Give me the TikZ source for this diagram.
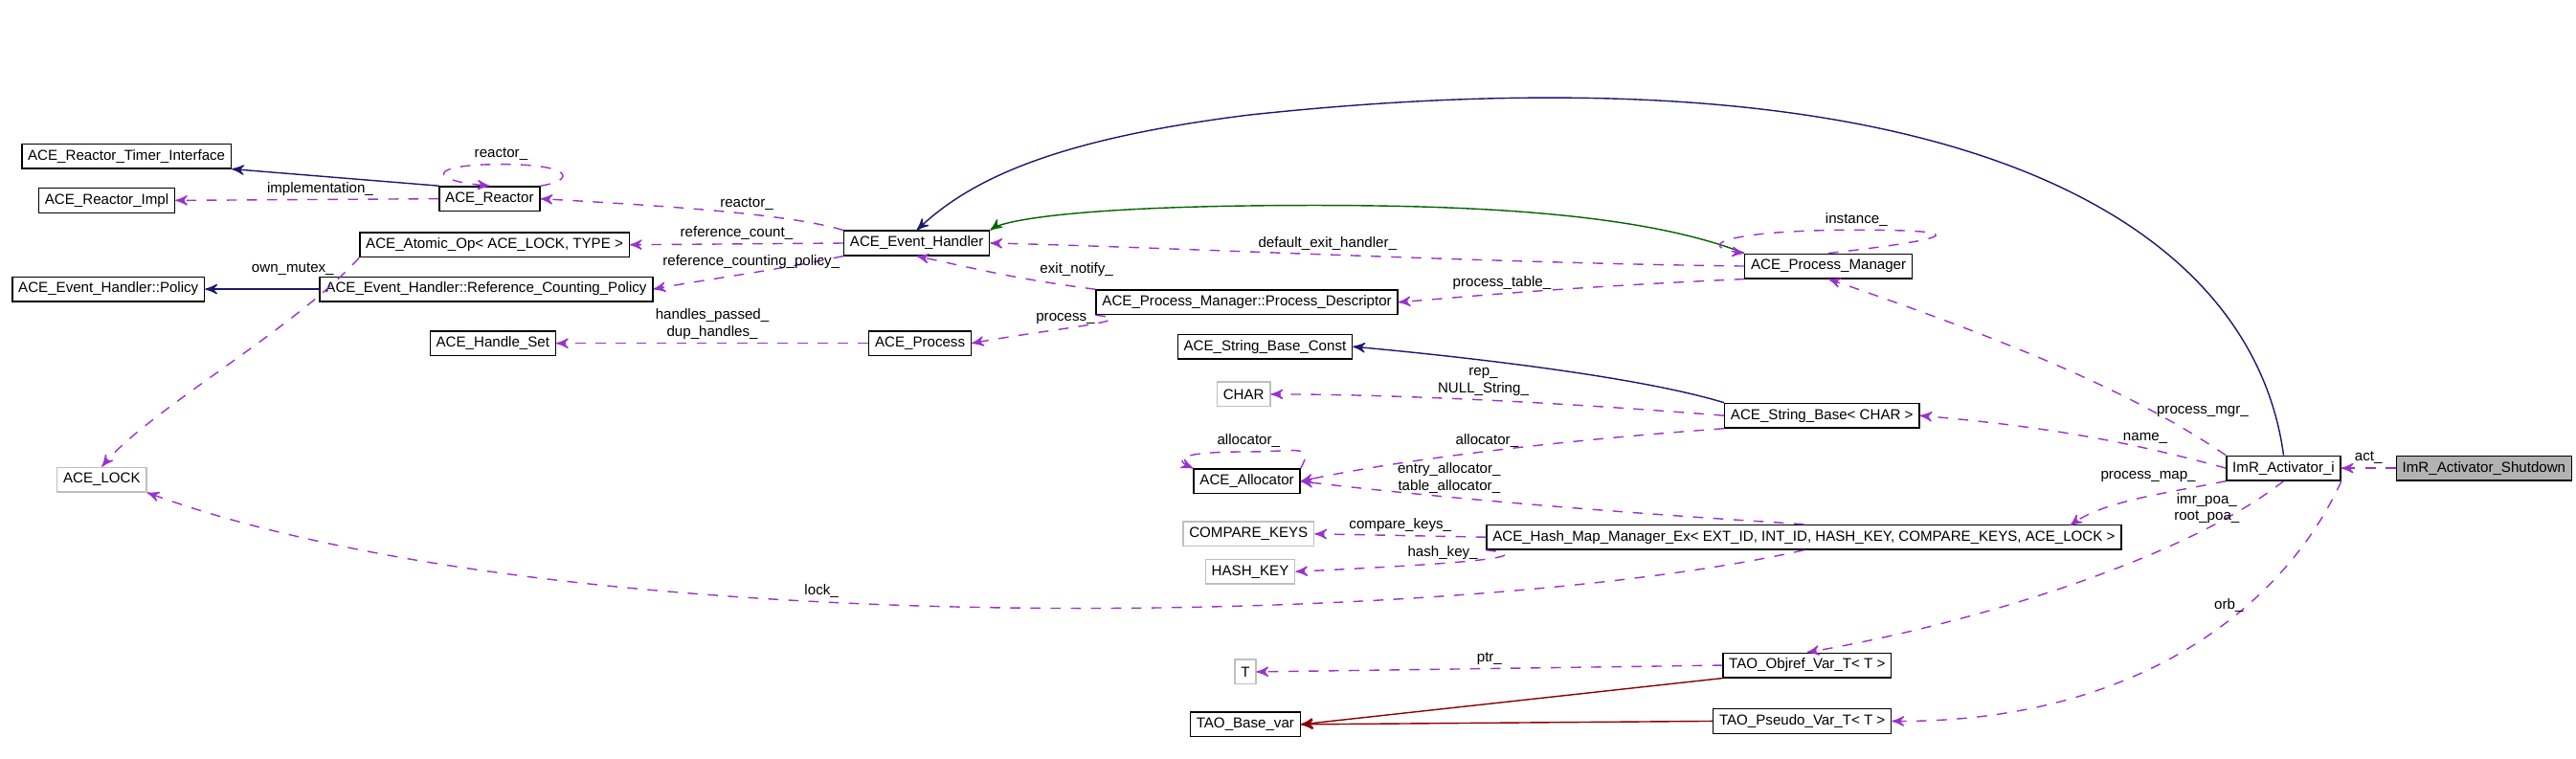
\documentclass[tikz,border=0pt]{standalone}
\usepackage{fontspec}
\setmainfont{Liberation Sans}
\usetikzlibrary{arrows}
\definecolor{orchid}{HTML}{9A32CD}
\definecolor{midnight}{HTML}{191970}
\definecolor{darkgrn}{HTML}{006400}
\definecolor{darkrd}{HTML}{8B0000}
\begin{document}
\begin{tikzpicture}[x=0.01716cm, y=-0.01716cm,
  every node/.style={font=\fontsize{4.3}{5}\selectfont},
  cls/.style={draw, thin, inner xsep=1.8pt, inner ysep=0pt, minimum height=7.3pt},
  ext/.style={cls, draw=black!25},
  cur/.style={cls, fill=black!30},
  uses/.style={->, >=stealth', dashed, thin, color=orchid},
  isa/.style={->, >=stealth', thin, color=midnight},
  isg/.style={->, >=stealth', thin, color=darkgrn},
  isr/.style={->, >=stealth', thin, color=darkrd},
  lbl/.style={text=black, inner sep=1pt, align=center}]
\useasboundingbox (0,0) rectangle (1568,462);
% classes
\node[cls] (timer) at (77,95) {ACE\_Reactor\_Timer\_Interface};
\node[cls] (rimpl) at (65,122) {ACE\_Reactor\_Impl};
\node[cls] (reactor) at (298,121) {ACE\_Reactor};
\node[cls] (atomic) at (301,149) {ACE\_Atomic\_Op< ACE\_LOCK, TYPE >};
\node[cls] (policy) at (66,176) {ACE\_Event\_Handler::Policy};
\node[cls] (rcpolicy) at (296,176) {ACE\_Event\_Handler::Reference\_Counting\_Policy};
\node[cls] (hset) at (300,209) {ACE\_Handle\_Set};
\node[ext] (lock) at (62,292) {ACE\_LOCK};
\node[cls] (evh) at (558,148) {ACE\_Event\_Handler};
\node[cls] (proc) at (560,209) {ACE\_Process};
\node[cls] (pdesc) at (759,184) {ACE\_Process\_Manager::Process\_Descriptor};
\node[cls] (pmgr) at (1113,162) {ACE\_Process\_Manager};
\node[cls] (sbconst) at (770,211) {ACE\_String\_Base\_Const};
\node[ext] (char) at (757,240) {CHAR};
\node[cls] (sbase) at (1109,253) {ACE\_String\_Base< CHAR >};
\node[cls] (alloc) at (759,293) {ACE\_Allocator};
\node[ext] (ckeys) at (760,325) {COMPARE\_KEYS};
\node[ext] (hkey) at (761,348) {HASH\_KEY};
\node[cls] (hmap) at (1098,327) {ACE\_Hash\_Map\_Manager\_Ex< EXT\_ID, INT\_ID, HASH\_KEY, COMPARE\_KEYS, ACE\_LOCK >};
\node[cls] (activ) at (1390,285) {ImR\_Activator\_i};
\node[cur] (shut) at (1512,285) {ImR\_Activator\_Shutdown};
\node[ext] (tt) at (758,409) {T};
\node[cls] (basevar) at (758,441) {TAO\_Base\_var};
\node[cls] (objref) at (1100,405) {TAO\_Objref\_Var\_T< T >};
\node[cls] (pseudo) at (1097,439) {TAO\_Pseudo\_Var\_T< T >};
% inheritance
\draw[isa] (reactor.north west) -- (timer.south east);
\draw[isa] (rcpolicy) -- (policy);
\draw[isa] (sbase.north west) .. controls (1000,230) and (900,218) .. (sbconst.east);
\draw[isa] (activ.north) .. controls (1370,130) and (1180,25) .. (760,70) .. controls (640,85) and (590,110) .. (evh.north);
\draw[isg] (pmgr.north west) .. controls (1000,130) and (900,125) .. (800,125) .. controls (650,125) and (610,135) .. (evh.north east);
\draw[isr] (objref.south west) -- (basevar.east);
\draw[isr] (pseudo.west) -- (basevar.east);
% members
\draw[uses] (reactor.west) -- node[lbl, above, pos=.45] {implementation\_} (rimpl.east);
\draw[uses] (reactor.north east) .. controls (350,110) and (350,100) .. (305,100) node[lbl, above] {reactor\_} .. controls (260,100) and (260,110) .. (reactor.north);
\draw[uses] (evh.north west) .. controls (480,130) and (400,125) .. node[lbl, above, pos=.4] {reactor\_} (reactor.east);
\draw[uses] (evh.west) -- node[lbl, above] {reference\_count\_} (atomic.east);
\draw[uses] (evh.south west) .. controls (470,165) and (430,170) .. node[lbl, above, pos=.45] {reference\_counting\_policy\_} (rcpolicy.east);
\draw[uses] (atomic.south west) .. controls (180,200) and (90,250) .. node[lbl, pos=.1, above left] {own\_mutex\_} (lock.north);
\draw[uses] (proc) -- node[lbl, above] {handles\_passed\_\\dup\_handles\_} (hset);
\draw[uses] (pdesc.north west) .. controls (620,170) and (600,165) .. node[lbl, above right, pos=.3] {exit\_notify\_} (evh.south);
\draw[uses] (pdesc.south west) .. controls (700,195) and (640,200) .. node[lbl, above, pos=.6] {process\_} (proc.east);
\draw[uses] (pmgr.west) .. controls (900,160) and (700,150) .. node[lbl, above, pos=.5] {default\_exit\_handler\_} (evh.east);
\draw[uses] (pmgr.south west) .. controls (950,175) and (900,180) .. node[lbl, above, pos=.6] {process\_table\_} (pdesc.east);
\draw[uses] (pmgr.north) .. controls (1150,150) and (1230,140) .. (1130,140) node[lbl, above] {instance\_} .. controls (1050,140) and (1030,150) .. (pmgr.north west);
\draw[uses] (activ.north west) .. controls (1300,240) and (1230,210) .. node[lbl, right, pos=.25] {process\_mgr\_} (pmgr.south);
\draw[uses] (sbase.west) .. controls (950,245) and (850,240) .. node[lbl, pos=.5, above] {rep\_\\NULL\_String\_} (char.east);
\draw[uses] (sbase.south west) .. controls (950,268) and (850,280) .. node[lbl, above, pos=.5] {allocator\_} (alloc.east);
\draw[uses] (alloc.north east) .. controls (800,270) and (790,275) .. (760,275) node[lbl, above] {allocator\_} .. controls (715,275) and (715,280) .. (alloc.north west);
\draw[uses] (hmap.north) .. controls (950,310) and (850,300) .. node[lbl, pos=.6, above] {entry\_allocator\_\\table\_allocator\_} (alloc.east);
\draw[uses] (hmap.west) -- node[lbl, above] {compare\_keys\_} (ckeys.east);
\draw[uses] (hmap.south west) .. controls (950,340) and (850,345) .. node[lbl, above, pos=.55] {hash\_key\_} (hkey.east);
\draw[uses] (hmap.south) .. controls (900,380) and (350,395) .. node[lbl, above, pos=.6] {lock\_} (lock.south east);
\draw[uses] (activ.west) .. controls (1300,270) and (1250,260) .. node[lbl, above, pos=.3] {name\_} (sbase.east);
\draw[uses] (activ.south west) .. controls (1320,300) and (1280,305) .. node[lbl, above left, pos=.15] {process\_map\_} (1260,320);
\draw[uses] (activ.south) .. controls (1330,340) and (1200,380) .. node[lbl, left, pos=.12] {imr\_poa\_\\root\_poa\_} (objref.north);
\draw[uses] (activ.south east) .. controls (1390,370) and (1300,440) .. node[lbl, left, pos=.35] {orb\_} (pseudo.east);
\draw[uses] (objref.west) -- node[lbl, above] {ptr\_} (tt.east);
\draw[uses] (shut.west) -- node[lbl, above] {act\_} (activ.east);
\end{tikzpicture}
\end{document}
